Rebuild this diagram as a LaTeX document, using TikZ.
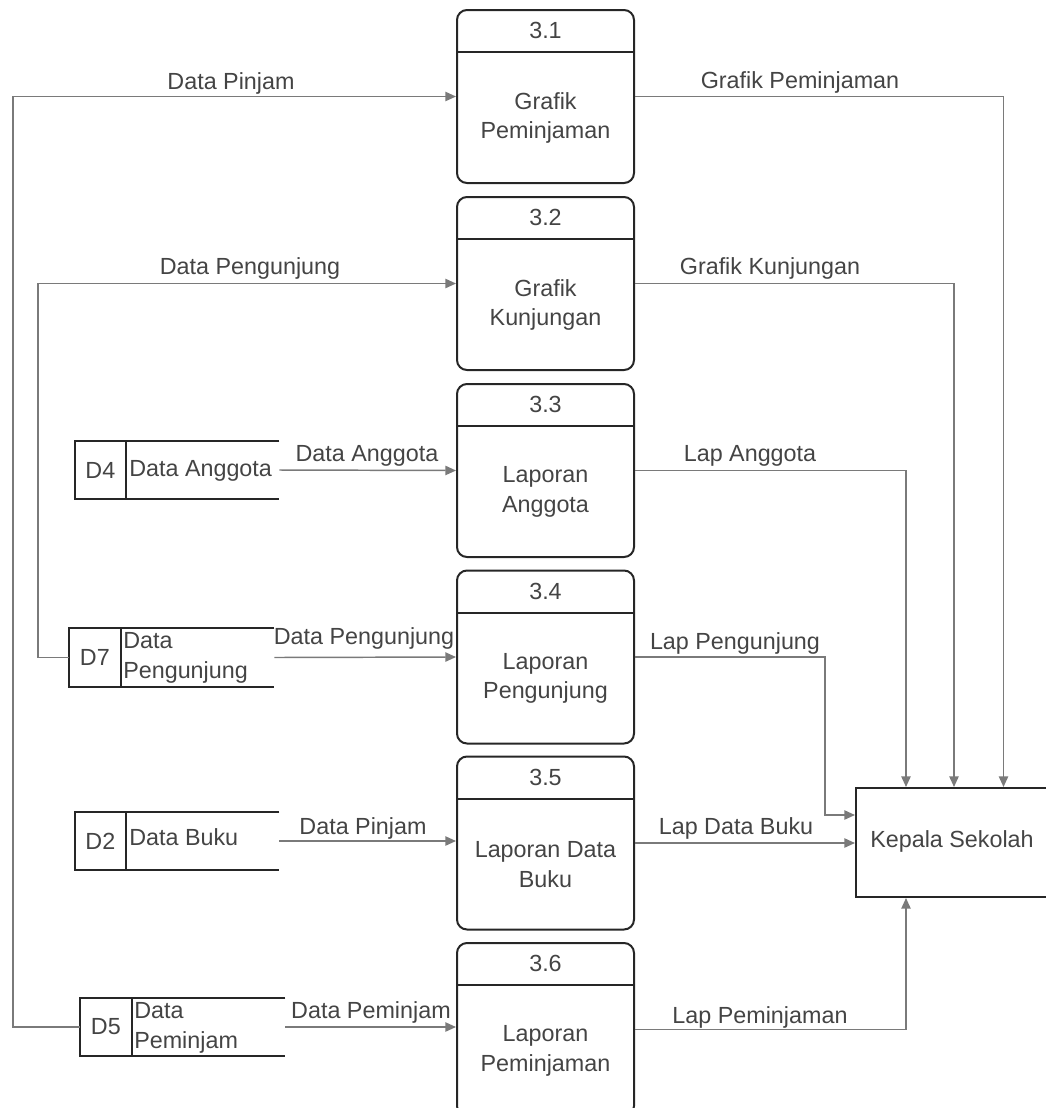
\documentclass[tikz,border=0pt]{standalone}
\usepackage{fontspec}
\setmainfont{Liberation Sans}
\usetikzlibrary{arrows.meta,calc}
\definecolor{txt}{HTML}{444444}
\definecolor{ln}{HTML}{7A7A7A}
\definecolor{bd}{HTML}{262626}
\begin{document}
\begin{tikzpicture}[x=0.75pt,y=-0.75pt,
  every node/.style={font=\fontsize{17.5}{22}\selectfont,text=txt,inner sep=0pt},
  proc/.style={draw=bd,line width=1.5pt,rounded corners=7.5pt,minimum width=132.75pt,minimum height=129.75pt},
  storebox/.style={minimum width=#1*0.75pt,minimum height=43.5pt},
  storeline/.style={draw=bd,line width=1.5pt},
  flow/.style={draw=ln,line width=1.1pt,-{Triangle[length=8pt,width=7pt]}},
  lbl/.style={text=txt},
  ptext/.style={align=center,text=txt}]
\useasboundingbox (0,0) rectangle (1046,1108);
\clip (0,0) rectangle (1046,1108);

% processes
\foreach \i/\y/\a/\b in {1/96.5/Grafik/Peminjaman,2/283.5/Grafik/Kunjungan,3/470.5/Laporan/Anggota,4/657/Laporan/Pengunjung,5/843/Laporan Data/Buku,6/1029.5/Laporan/Peminjaman}{
  \node[proc] (p\i) at (545.5,\y) {};
  \draw[bd,line width=1.5pt] ($(p\i.north west)+(0,43)$) -- ($(p\i.north east)+(0,43)$);
  \node[ptext] (h\i) at ($(p\i.north)+(0,21.5)$) {3.\i};
  \node[ptext] (t\i) at ($(p\i.center)+(0,21.5)$) {\a\\[0pt]\b};
}

% Kepala Sekolah
\node[draw=bd,line width=1.5pt,minimum width=144pt,minimum height=81.75pt] (k) at (952,842.5) {};
\node (kt) at (952,841) {Kepala Sekolah};

% data stores
\newcommand{\mystore}[6]{% name, cx, cy, width, divider x, id
  \node[storebox=#4] (#1) at (#2,#3) {};
  \draw[storeline] (#1.north east) -- (#1.north west) -- (#1.south west) -- (#1.south east);
  \draw[storeline] (#5,0 |- #1.north) -- (#5,0 |- #1.south);
  \coordinate (#1div) at (#5,#3);
  \node (#1id) at ($(#1.west)!0.5!(#1div)$) {#6};
}
\mystore{d4}{177}{470}{204}{126}{D4}
\mystore{d7}{171.5}{657.5}{205}{121}{D7}
\mystore{d2}{177}{841}{204}{126}{D2}
\mystore{d5}{182.5}{1027}{205}{132}{D5}
\node[anchor=west] (d4t) at (129,471) {Data Anggota};
\node[anchor=west,align=left] (d7t) at (123,658) {Data\\[0pt]Pengunjung};
\node[anchor=west] (d2t) at (129,837) {Data Buku};
\node[anchor=west,align=left] (d5t) at (134,1028) {Data\\[0pt]Peminjam};

% inbound flows
\coordinate (c1a) at (13,1027);
\coordinate (c1b) at (13,96.5);
\draw[flow] (d5.west) -- (c1a) -- (c1b) -- (p1.west);
\coordinate (c2a) at (38,657.5);
\coordinate (c2b) at (38,283.5);
\draw[flow] (d7.west) -- (c2a) -- (c2b) -- (p2.west);
\draw[flow] (d4.east) -- (p3.west);
\draw[flow] (d7.east) -- (p4.west);
\draw[flow] (d2.east) -- (d2.east -| p5.west);
\draw[flow] (d5.east) -- (d5.east -| p6.west);

% outbound flows
\coordinate (o1) at (1003.5,96.5);
\draw[flow] (p1.east) -- (o1) -- (o1 |- k.north);
\coordinate (o2) at (954,283.5);
\draw[flow] (p2.east) -- (o2) -- (o2 |- k.north);
\coordinate (o3) at (906,470.5);
\draw[flow] (p3.east) -- (o3) -- (o3 |- k.north);
\coordinate (o4a) at (825,657);
\coordinate (o4b) at (825,815);
\draw[flow] (p4.east) -- (o4a) -- (o4b) -- (o4b -| k.west);
\draw[flow] (p5.east) -- (p5.east -| k.west);
\coordinate (o6) at (906,1029.5);
\draw[flow] (p6.east) -- (o6) -- (o6 |- k.south);

% labels
\node[lbl] (l1) at (231,83) {Data Pinjam};
\node[lbl] (l2) at (250,268) {Data Pengunjung};
\node[lbl] (l3) at (367,456) {Data Anggota};
\node[lbl] (l4) at (364,638) {Data Pengunjung};
\node[lbl] (l5) at (363,828) {Data Pinjam};
\node[lbl] (l6) at (371,1012) {Data Peminjam};
\node[lbl] (r1) at (800,82) {Grafik Peminjaman};
\node[lbl] (r2) at (770,268) {Grafik Kunjungan};
\node[lbl] (r3) at (750,456) {Lap Anggota};
\node[lbl] (r4) at (735,643) {Lap Pengunjung};
\node[lbl] (r5) at (736,828) {Lap Data Buku};
\node[lbl] (r6) at (760,1017) {Lap Peminjaman};
\end{tikzpicture}
\end{document}
